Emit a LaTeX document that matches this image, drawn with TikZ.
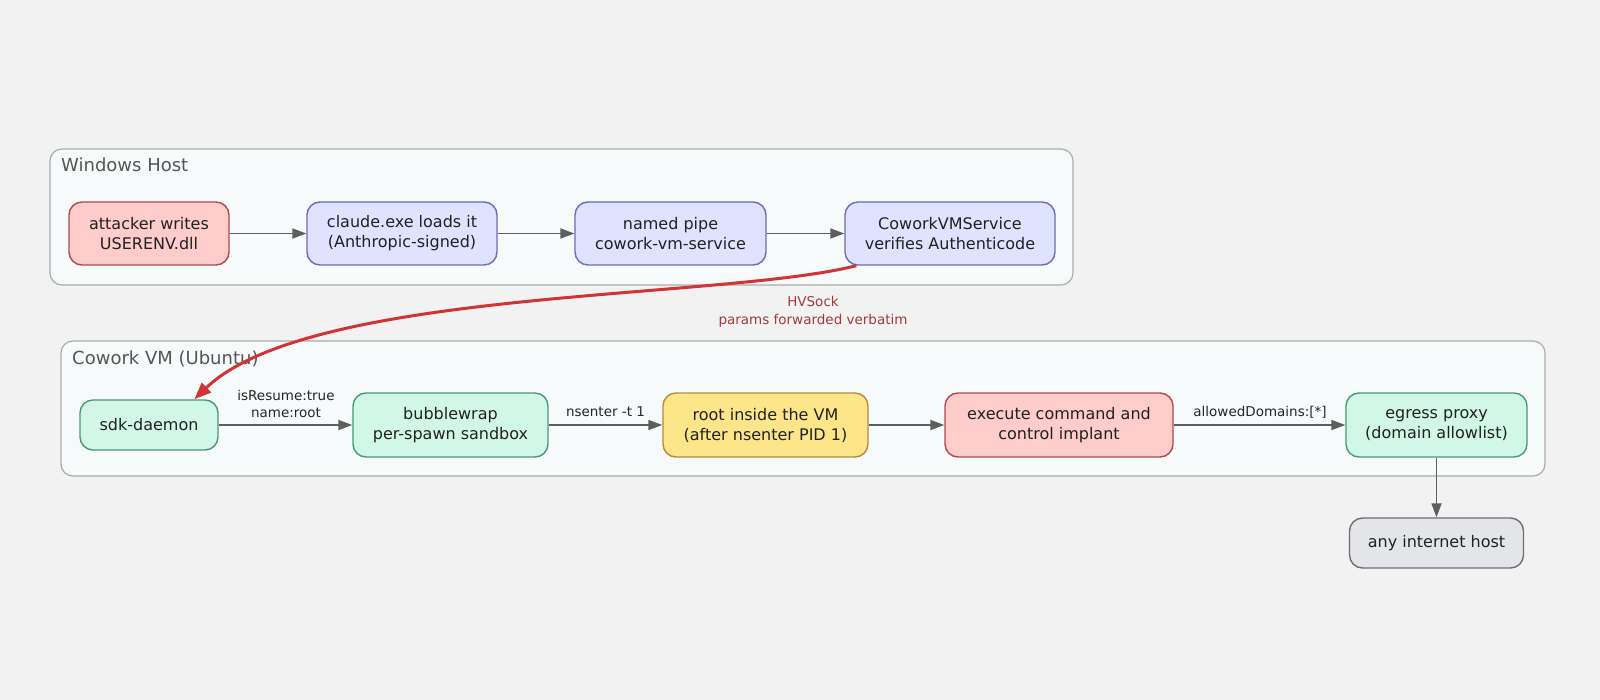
\documentclass[tikz,border=0pt]{standalone}
\usepackage{fontspec}
\setmainfont{DejaVu Sans}
\usetikzlibrary{arrows.meta,calc}
\definecolor{bg}{HTML}{F2F2F2}
\definecolor{clfill}{HTML}{F6FAFB}
\definecolor{clline}{HTML}{ABABAB}
\definecolor{cltext}{HTML}{555555}
\definecolor{redfill}{HTML}{FFCCCC}
\definecolor{redline}{HTML}{B04A4A}
\definecolor{bluefill}{HTML}{E0E3FF}
\definecolor{blueline}{HTML}{6B6BB8}
\definecolor{greenfill}{HTML}{D1F7E8}
\definecolor{greenline}{HTML}{4E957A}
\definecolor{yellowfill}{HTML}{FDE68A}
\definecolor{yellowline}{HTML}{B8893E}
\definecolor{grayfill}{HTML}{E4E5E9}
\definecolor{grayline}{HTML}{6E6E72}
\definecolor{arrowgray}{HTML}{5E5E5E}
\definecolor{hvred}{HTML}{D03434}
\definecolor{hvtext}{HTML}{A33A3A}
\tikzset{
  cluster/.style={draw=clline, fill=clfill, line width=1.2pt, rounded corners=12pt, inner sep=0pt},
  cltitle/.style={text=cltext, font=\fontsize{18}{22}\selectfont, anchor=base west, inner sep=0pt},
  box/.style={draw, line width=1.4pt, rounded corners=13pt, align=center, inner sep=0pt,
    font=\fontsize{16}{20}\selectfont, text=black!87},
  redbox/.style={box, fill=redfill, draw=redline},
  bluebox/.style={box, fill=bluefill, draw=blueline},
  greenbox/.style={box, fill=greenfill, draw=greenline},
  yellowbox/.style={box, fill=yellowfill, draw=yellowline},
  graybox/.style={box, fill=grayfill, draw=grayline},
  flow/.style={draw=arrowgray, line width=1.8pt, -{Triangle[length=14pt,width=10pt]}},
  hvflow/.style={draw=hvred, line width=3pt, -{Triangle[length=17pt,width=13pt]}},
  elabel/.style={font=\fontsize{13.5}{17}\selectfont, text=black!85, align=center, inner sep=0pt},
  hvlabel/.style={font=\fontsize{13.5}{18}\selectfont, text=hvtext, align=center, inner sep=0pt}
}
\begin{document}
\begin{tikzpicture}[x=1pt,y=-1pt]
\fill[bg] (0,0) rectangle (1600,700);
\useasboundingbox (0,0) rectangle (1600,700);

% clusters
\node[cluster, minimum width=1023pt, minimum height=136pt] (win) at (561.5,217) {};
\node[cltitle] (wintitle) at (61,172) {Windows Host};
\node[cluster, minimum width=1484pt, minimum height=135pt] (vm) at (803,408.5) {};
\node[cltitle] (vmtitle) at (72,364) {Cowork VM (Ubuntu)};

% Windows host nodes
\node[redbox, minimum width=160pt, minimum height=63pt] (att) at (149,233.5) {attacker writes\\USERENV.dll};
\node[bluebox, minimum width=190pt, minimum height=63pt] (cla) at (402,233.5) {claude.exe loads it\\(Anthropic-signed)};
\node[bluebox, minimum width=191pt, minimum height=63pt] (pipe) at (670.5,233.5) {named pipe\\cowork-vm-service};
\node[bluebox, minimum width=210pt, minimum height=63pt] (svc) at (950,233.5) {CoworkVMService\\verifies Authenticode};

% VM nodes
\node[greenbox, minimum width=138pt, minimum height=50pt] (sdk) at (149,425) {sdk-daemon};
\node[greenbox, minimum width=195pt, minimum height=64pt] (bwrap) at (450.5,425) {bubblewrap\\per-spawn sandbox};
\node[yellowbox, minimum width=205pt, minimum height=64pt] (root) at (765.5,425) {root inside the VM\\(after nsenter PID 1)};
\node[redbox, minimum width=228pt, minimum height=64pt] (exec) at (1059,425) {execute command and\\control implant};
\node[greenbox, minimum width=181pt, minimum height=64pt] (egress) at (1436.5,425) {egress proxy\\(domain allowlist)};
\node[graybox, minimum width=174pt, minimum height=50pt] (inet) at (1436.5,543) {any internet host};

% host arrows
\draw[flow] (att) -- (cla);
\draw[flow] (cla) -- (pipe);
\draw[flow] (pipe) -- (svc);

% HVSock arrow
\coordinate (hvstart) at ([xshift=12pt]svc.south west);
\coordinate (hvend) at ([xshift=115pt]sdk.north west);
\draw[hvflow] (hvstart) .. controls (720,300) and (310,288) .. (hvend);
\node[hvlabel] (hvl) at (813,312) {HVSock\\params forwarded verbatim};

% VM arrows
\draw[flow] (sdk) -- (bwrap);
\node[elabel] (l1) at (286,403.5) {isResume:true\\name:root};
\draw[flow] (bwrap) -- (root);
\node[elabel] (l2) at (605.5,412) {nsenter -t 1};
\draw[flow] (root) -- (exec);
\draw[flow] (exec) -- (egress);
\node[elabel] (l3) at (1260,412) {allowedDomains:[*]};
\draw[flow] (egress) -- (inet);
\end{tikzpicture}
\end{document}
